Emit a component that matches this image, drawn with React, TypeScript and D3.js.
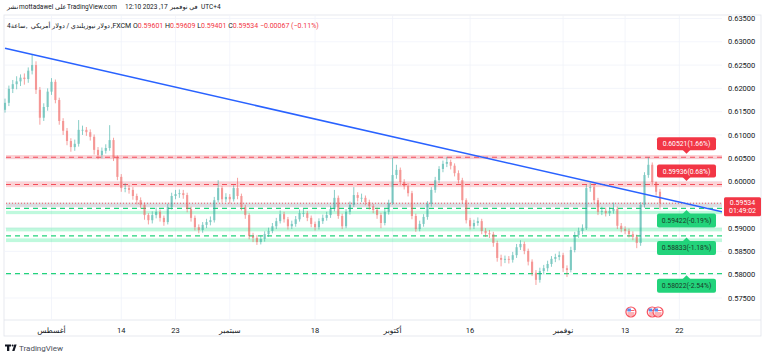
import * as d3 from "d3";

const W = 768;
const H = 358;

// NZD/USD 12h candles (open = previous close)
const firstOpen = 0.6154;
const closes = [
  0.6169, 0.6199, 0.6209, 0.6215, 0.6223, 0.622, 0.6238, 0.625, 0.6197, 0.6137,
  0.616, 0.6193, 0.6214, 0.6175, 0.613, 0.6109, 0.6087, 0.6074, 0.6081, 0.6111,
  0.6111, 0.6106, 0.6096, 0.6068, 0.6057, 0.6066, 0.6072, 0.6089, 0.6051, 0.601,
  0.5986, 0.5986, 0.5982, 0.5969, 0.596, 0.595, 0.5928, 0.5917, 0.5928, 0.5935,
  0.5922, 0.5913, 0.5945, 0.5969, 0.5973, 0.5975, 0.5971, 0.5941, 0.5922, 0.5902,
  0.5896, 0.5907, 0.5913, 0.5917, 0.596, 0.5986, 0.5962, 0.5967, 0.5962, 0.5986,
  0.5969, 0.5945, 0.5928, 0.5883, 0.5879, 0.587, 0.5877, 0.5887, 0.5894, 0.5904,
  0.5915, 0.593, 0.5919, 0.5904, 0.5909, 0.5919, 0.5932, 0.5932, 0.5922, 0.5909,
  0.5902, 0.5915, 0.5922, 0.5928, 0.5941, 0.5965, 0.5926, 0.5904, 0.5935, 0.595,
  0.5971, 0.5965, 0.5965, 0.5956, 0.5947, 0.5939, 0.5928, 0.5911, 0.5935, 0.5954,
  0.6014, 0.6025, 0.5999, 0.599, 0.5975, 0.5926, 0.5898, 0.5909, 0.5924, 0.5952,
  0.5982, 0.6003, 0.6027, 0.6038, 0.6042, 0.6034, 0.6018, 0.6003, 0.596, 0.5917,
  0.5904, 0.5911, 0.5915, 0.5894, 0.5889, 0.5887, 0.5868, 0.5836, 0.5832, 0.5834,
  0.5832, 0.5842, 0.5859, 0.5866, 0.5851, 0.5828, 0.5804, 0.5789, 0.5808, 0.5814,
  0.5823, 0.5834, 0.5838, 0.5842, 0.5814, 0.581, 0.5853, 0.5885, 0.5894, 0.59,
  0.5986, 0.5988, 0.596, 0.5935, 0.5937, 0.5932, 0.5937, 0.5941, 0.5905, 0.5898,
  0.5894, 0.5887, 0.5881, 0.5868, 0.595, 0.6014, 0.6036, 0.5999, 0.5978, 0.59534,
];
const highs = [
  0.6178, 0.6206, 0.6218, 0.6226, 0.623, 0.6232, 0.6245, 0.6272, 0.6258, 0.6203,
  0.6168, 0.62, 0.6222, 0.6219, 0.618, 0.6136, 0.6115, 0.6093, 0.609, 0.6132,
  0.612, 0.6117, 0.6112, 0.6101, 0.6074, 0.6073, 0.608, 0.6121, 0.6094, 0.6056,
  0.6016, 0.5996, 0.5993, 0.5988, 0.5974, 0.5966, 0.5955, 0.5932, 0.5936, 0.5944,
  0.594, 0.5927, 0.5952, 0.5976, 0.5982, 0.5983, 0.5982, 0.5976, 0.5946, 0.5927,
  0.5908, 0.5913, 0.592, 0.5925, 0.5967, 0.6003, 0.599, 0.5975, 0.5973, 0.5992,
  0.6008, 0.5974, 0.595, 0.5932, 0.589, 0.5885, 0.5884, 0.5893, 0.5901, 0.5911,
  0.5922, 0.5938, 0.5935, 0.5924, 0.5916, 0.5926, 0.594, 0.5941, 0.5937, 0.5927,
  0.5914, 0.5921, 0.5929, 0.5935, 0.5948, 0.5982, 0.597, 0.5931, 0.5941, 0.5957,
  0.5988, 0.5977, 0.5974, 0.597, 0.5961, 0.5952, 0.5944, 0.5933, 0.5941, 0.5961,
  0.6051, 0.6036, 0.603, 0.6005, 0.5996, 0.598, 0.5931, 0.5916, 0.593, 0.5958,
  0.5988, 0.601, 0.6033, 0.6045, 0.6053, 0.6047, 0.6039, 0.6024, 0.6008, 0.5964,
  0.5922, 0.5918, 0.5923, 0.592, 0.59, 0.5896, 0.5892, 0.5873, 0.5843, 0.5841,
  0.584, 0.5849, 0.5866, 0.5874, 0.5871, 0.5856, 0.5833, 0.581, 0.5815, 0.5821,
  0.583, 0.584, 0.5845, 0.585, 0.5847, 0.582, 0.586, 0.5892, 0.5901, 0.5908,
  0.5993, 0.5997, 0.5993, 0.5965, 0.5946, 0.5944, 0.5945, 0.5955, 0.5946, 0.5911,
  0.5904, 0.5899, 0.5893, 0.5886, 0.5956, 0.602, 0.6052, 0.6041, 0.6, 0.59842,
];
const lows = [
  0.6148, 0.6162, 0.619, 0.6198, 0.6205, 0.6208, 0.6212, 0.623, 0.6188, 0.6122,
  0.613, 0.6152, 0.6186, 0.6168, 0.6122, 0.61, 0.6078, 0.6064, 0.6066, 0.6075,
  0.61, 0.6098, 0.6088, 0.6058, 0.6048, 0.605, 0.606, 0.6066, 0.6044, 0.6003,
  0.5978, 0.5977, 0.5974, 0.5961, 0.5951, 0.5942, 0.5918, 0.5908, 0.591, 0.5921,
  0.5914, 0.5905, 0.5908, 0.594, 0.5962, 0.5965, 0.5963, 0.5934, 0.5914, 0.5895,
  0.5889, 0.589, 0.59, 0.5906, 0.5912, 0.5955, 0.5955, 0.5956, 0.5953, 0.5957,
  0.5962, 0.5938, 0.592, 0.5876, 0.587, 0.5864, 0.5865, 0.5871, 0.5881, 0.5889,
  0.5898, 0.591, 0.5912, 0.5897, 0.5898, 0.5903, 0.5914, 0.5924, 0.5915, 0.5902,
  0.5895, 0.5897, 0.5909, 0.5916, 0.5922, 0.5936, 0.592, 0.5898, 0.59, 0.5929,
  0.5945, 0.5957, 0.5956, 0.5949, 0.594, 0.5932, 0.592, 0.59, 0.5906, 0.5929,
  0.595, 0.6006, 0.5992, 0.5983, 0.5968, 0.5919, 0.5892, 0.5893, 0.5903, 0.5918,
  0.5946, 0.5976, 0.5997, 0.602, 0.6031, 0.6026, 0.6011, 0.5996, 0.5953, 0.591,
  0.5897, 0.5898, 0.5905, 0.5887, 0.5881, 0.5879, 0.586, 0.5828, 0.5818, 0.5825,
  0.5824, 0.5826, 0.5836, 0.5853, 0.5844, 0.582, 0.5797, 0.5778, 0.5783, 0.5801,
  0.5807, 0.5817, 0.5827, 0.5831, 0.5806, 0.5795, 0.5805, 0.5848, 0.5879, 0.5887,
  0.5896, 0.5978, 0.5953, 0.5928, 0.5928, 0.5925, 0.5926, 0.5931, 0.5898, 0.5891,
  0.5887, 0.588, 0.5874, 0.5857, 0.5862, 0.5944, 0.6008, 0.5992, 0.597, 0.59401,
];

// time axis: candle index of each labelled day (2 candles per trading day)
const timeTickIdx = [12, 30, 44, 58, 80, 100, 120, 144, 160, 174];
const timeTickLabels = ["أغسطس", "14", "23", "سبتمبر", "18", "أكتوبر", "16", "نوفمبر", "13", "22"];
const priceTicks = [0.575, 0.58, 0.585, 0.59, 0.595, 0.6, 0.605, 0.61, 0.615, 0.62, 0.625, 0.63, 0.635];

const resistanceLevels = [0.60521, 0.59936];
const resistanceLabels = ["0.60521(1.66%)", "0.59936(0.68%)"];
const supportLevels = [0.59422, 0.58833, 0.58022];
const supportLabels = ["0.59422(-0.19%)", "0.58833(-1.18%)", "0.58022(-2.54%)"];
const redZones = [
  [0.6048, 0.6057],
  [0.5988, 0.6],
];
const greenZones = [
  [0.593, 0.5937],
  [0.5893, 0.5901],
  [0.587, 0.5878],
];
const trendIdx = [0, 185];
const trendPrice = [0.6286, 0.5935];
const lastPrice = 0.59534;
const countdown = "01:49:02";

const UP = "#26a69a";
const DOWN = "#ef5350";
const RED = "#f23645";
const GREEN = "#22d37b";
const FONT = "Roboto, 'DejaVu Sans', sans-serif";

export default function App() {
  const left = 5;
  const right = 722;
  const top = 15;
  const bottom = 320;

  const x = d3.scaleLinear().domain([0, 185]).range([left, right]);
  const y = d3.scaleLinear().domain([0.575, 0.635]).range([298, 18.5]);

  const candles = closes.map((c, i) => ({
    i,
    o: i === 0 ? firstOpen : closes[i - 1],
    c,
    h: highs[i],
    l: lows[i],
  }));
  const bw = 2.1;

  const trend = d3
    .line<number>()
    .x((d) => x(trendIdx[d]))
    .y((d) => y(trendPrice[d]));

  const boxX = 657;
  const boxW = 59;
  const boxC = boxX + boxW / 2;

  return (
    <div style={{ position: "fixed", left: 0, top: 0 }}>
      <svg width={W} height={H} viewBox={`0 0 ${W} ${H}`} style={{ display: "block", background: "#fff" }} fontFamily={FONT}>
        <defs>
          <clipPath id="plot">
            <rect x={4} y={top} width={right - 4} height={bottom - top} />
          </clipPath>
        </defs>

        {/* header */}
        <g fontSize={6.5} fill="#131722">
          <text x={7} y={8.5}>نشر</text>
          <text x={19} y={8.5}>mottadawel</text>
          <text x={55} y={8.5}>على</text>
          <text x={67} y={8.5}>TradingView.com</text>
          <text x={125} y={8.5}>12:10 2023</text>
          <text x={159} y={8.5}>,17</text>
          <text x={170} y={8.5}>في نوفمبر</text>
          <text x={201} y={8.5}>UTC+4</text>
        </g>

        {/* pane frame */}
        <rect x={4} y={top} width={757} height={336 - top} fill="none" stroke="#e0e3eb" strokeWidth={0.8} />
        <line x1={4} x2={761} y1={bottom} y2={bottom} stroke="#e0e3eb" strokeWidth={0.8} />

        {/* grid */}
        <g stroke="#f0f3fa" strokeWidth={0.8}>
          {priceTicks.map((p) => (
            <line key={p} x1={4} x2={right} y1={y(p)} y2={y(p)} />
          ))}
          {timeTickIdx.map((t) => (
            <line key={t} x1={x(t)} x2={x(t)} y1={top} y2={bottom} />
          ))}
        </g>

        <g fontSize={6.5} fill="#131722">
          <text x={7} y={28}>4ساعة</text>
          <text x={26} y={28}>,</text>
          <text x={110} y={28} textAnchor="end">دولار نيوزيلندي / دولار أمريكي</text>
        </g>
        <g fontSize={7} fill="#131722">
          <text x={111} y={28}>
            ,FXCM <tspan>O</tspan>
            <tspan fill={RED}>0.59601 </tspan>
            <tspan>H</tspan>
            <tspan fill={RED}>0.59609 </tspan>
            <tspan>L</tspan>
            <tspan fill={RED}>0.59401 </tspan>
            <tspan>C</tspan>
            <tspan fill={RED}>0.59534 −0.00067 (−0.11%)</tspan>
          </text>
        </g>

        <g clipPath="url(#plot)">
          {/* zones */}
          {redZones.map((z, i) => (
            <rect key={"r" + i} x={6} width={right - 6} y={y(z[1])} height={y(z[0]) - y(z[1])} fill={RED} opacity={0.22} />
          ))}
          {greenZones.map((z, i) => (
            <rect key={"g" + i} x={6} width={right - 6} y={y(z[1])} height={y(z[0]) - y(z[1])} fill="#00e676" opacity={0.25} />
          ))}
          <rect x={6} width={right - 6} y={y(0.59548)} height={y(0.5945) - y(0.59548)} fill="#9598a1" opacity={0.3} />
          <line x1={6} x2={right} y1={y(lastPrice)} y2={y(lastPrice)} stroke={RED} strokeWidth={0.8} strokeDasharray="1 2" />

          {resistanceLevels.map((p) => (
            <line key={p} x1={6} x2={right} y1={y(p)} y2={y(p)} stroke={RED} strokeWidth={1.2} strokeDasharray="5 4" opacity={0.85} />
          ))}
          {supportLevels.map((p) => (
            <line key={p} x1={6} x2={right} y1={y(p)} y2={y(p)} stroke={GREEN} strokeWidth={1.2} strokeDasharray="5 4" />
          ))}

          {/* candles */}
          {candles.map((d) => {
            const col = d.c >= d.o ? UP : DOWN;
            const cx = x(d.i);
            const y0 = y(Math.max(d.o, d.c));
            const y1 = y(Math.min(d.o, d.c));
            return (
              <g key={d.i} opacity={0.6}>
                <line x1={cx} x2={cx} y1={y(d.h)} y2={y(d.l)} stroke={col} strokeWidth={0.9} />
                <rect x={cx - bw / 2} width={bw} y={y0} height={Math.max(0.8, y1 - y0)} fill={col} />
              </g>
            );
          })}

          <path d={trend([0, 1]) ?? ""} fill="none" stroke="#2962ff" strokeWidth={1.6} />
        </g>

        {/* level callouts */}
        {resistanceLevels.map((p, i) => {
          const yl = y(p);
          return (
            <g key={p}>
              <rect x={boxX} y={yl - 20} width={boxW} height={13} rx={2} fill={RED} />
              <path d={`M${boxC - 4},${yl - 7.5}L${boxC + 4},${yl - 7.5}L${boxC},${yl - 3.5}Z`} fill={RED} />
              <text x={boxC} y={yl - 11} textAnchor="middle" fontSize={6.8} fill="#fff">
                {resistanceLabels[i]}
              </text>
            </g>
          );
        })}
        {supportLevels.map((p, i) => {
          const yl = y(p);
          return (
            <g key={p}>
              <rect x={boxX} y={yl + 5} width={boxW} height={14} rx={2} fill={GREEN} />
              <path d={`M${boxC - 4},${yl + 5.5}L${boxC + 4},${yl + 5.5}L${boxC},${yl + 1.5}Z`} fill={GREEN} />
              <text x={boxC} y={yl + 14.5} textAnchor="middle" fontSize={6.8} fill="#1b3a28">
                {supportLabels[i]}
              </text>
            </g>
          );
        })}

        {/* price axis */}
        <g fontSize={7.5} fill="#131722">
          {priceTicks
            .filter((p) => p !== 0.595)
            .map((p) => (
              <text key={p} x={728} y={y(p) + 2.6}>
                {p.toFixed(5)}
              </text>
            ))}
        </g>
        <rect x={724} y={y(lastPrice) - 6} width={37} height={19} rx={1.5} fill={RED} />
        <text x={742.5} y={y(lastPrice) + 1.5} textAnchor="middle" fontSize={7} fill="#fff">
          {lastPrice.toFixed(5)}
        </text>
        <text x={742.5} y={y(lastPrice) + 10} textAnchor="middle" fontSize={7} fill="#fff">
          {countdown}
        </text>

        {/* event flags */}
        {[161.5, 167, 168.5].map((t) => (
          <g key={t} transform={`translate(${x(t)},312)`}>
            <circle r={5} fill="#fff" stroke="#f7525f" strokeWidth={1.2} />
            <path d="M-3.5,-1.5H3.5M-3.5,1H3.5M-3,3H3" stroke="#f7525f" strokeWidth={0.9} />
            <rect x={-3.5} y={-3.5} width={3.5} height={3} fill="#5b8def" />
          </g>
        ))}

        {/* time axis */}
        <g fontSize={7.5} fill="#131722" textAnchor="middle">
          {timeTickIdx.map((t, i) => (
            <text key={t} x={x(t)} y={332.5}>
              {timeTickLabels[i]}
            </text>
          ))}
        </g>

        {/* logo */}
        <g fill="#131722">
          <path d="M5,344.5H11V346.5H9.3V351H7V346.5H5Z" />
          <circle cx={12.6} cy={345.5} r={1} />
          <path d="M12.2,351L14.3,344.5H16.6L14.5,351Z" />
        </g>
        <text x={19} y={350.5} fontSize={8} fill="#4a4e59">
          TradingView
        </text>
      </svg>
    </div>
  );
}
